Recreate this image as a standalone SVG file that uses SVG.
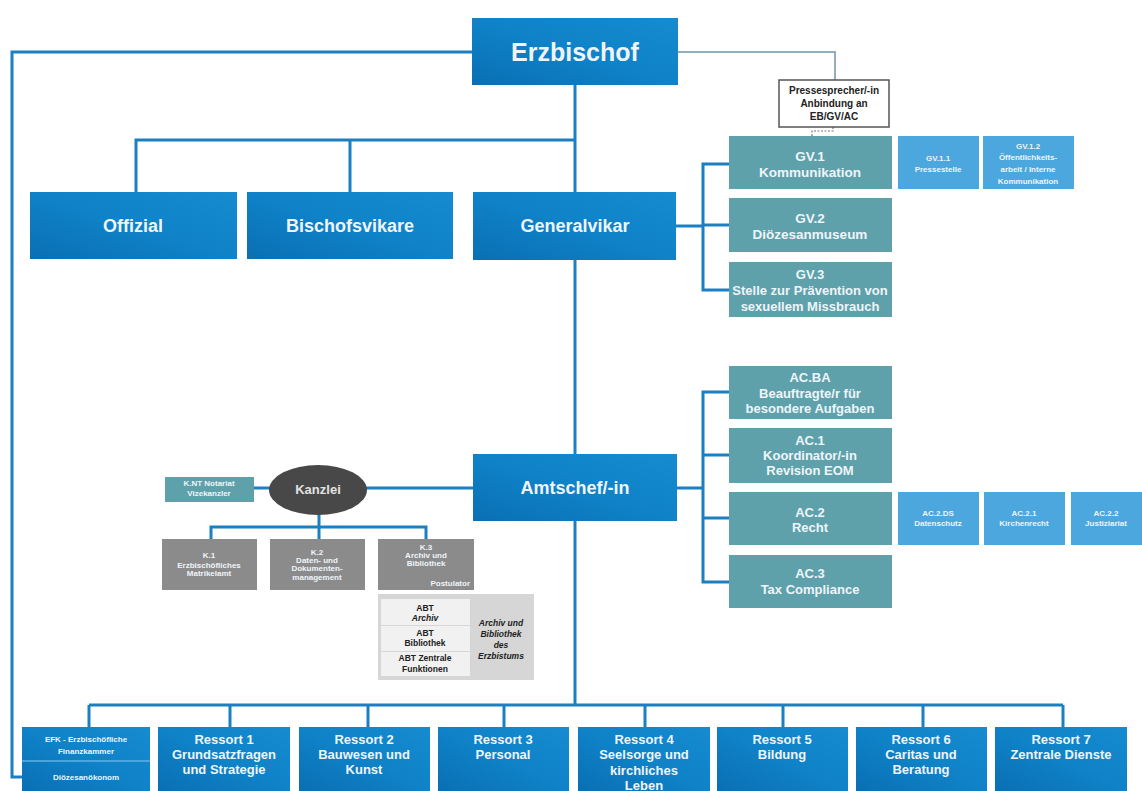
<svg xmlns="http://www.w3.org/2000/svg" width="1142" height="791" viewBox="0 0 1142 791">
<defs>
<linearGradient id="gb" x1="0" y1="1" x2="1" y2="0">
<stop offset="0" stop-color="#0a6fb3"/>
<stop offset="0.5" stop-color="#0f82c8"/>
<stop offset="1" stop-color="#168bd0"/>
</linearGradient>
<style>
.blue{fill:url(#gb)}
.teal{fill:#5fa1aa}
.lb{fill:#4ba7dd}
.gray{fill:#8b8b8b}
.t{font-family:"Liberation Sans",Arial,sans-serif;font-weight:bold;fill:#eef5fa;text-anchor:middle}
.d{font-family:"Liberation Sans",Arial,sans-serif;font-weight:bold;fill:#222;text-anchor:middle}
.conn{stroke:#1b7fc2;stroke-width:3;fill:none}
.thin{stroke:#6f95ad;stroke-width:1.5;fill:none}
.dash{stroke:#777;stroke-width:1.2;fill:none;stroke-dasharray:2 1.5}
</style>
</defs>
<rect width="1142" height="791" fill="#ffffff"/>

<g id="connectors">
<polyline class="conn" points="472,52 12,52 12,777 22,777"/>
<polyline class="thin" points="678,52 835,52 835,80"/>
<polyline class="dash" points="833,127 833,131 812,131 812,136"/>
<line class="conn" x1="575" y1="85" x2="575" y2="192"/>
<polyline class="conn" points="136,192 136,140 575,140"/>
<line class="conn" x1="350" y1="140" x2="350" y2="192"/>
<line class="conn" x1="676" y1="226" x2="703" y2="226"/>
<polyline class="conn" points="729,164 703,164 703,290 729,290"/>
<line class="conn" x1="703" y1="225" x2="729" y2="225"/>
<line class="conn" x1="575" y1="260" x2="575" y2="454"/>
<line class="conn" x1="677" y1="488" x2="703" y2="488"/>
<polyline class="conn" points="729,392 703,392 703,582 729,582"/>
<line class="conn" x1="703" y1="455" x2="729" y2="455"/>
<line class="conn" x1="703" y1="518" x2="729" y2="518"/>
<line class="conn" x1="254" y1="488" x2="270" y2="488"/>
<line class="conn" x1="366" y1="488" x2="473" y2="488"/>
<line class="conn" x1="319" y1="514" x2="319" y2="527"/>
<polyline class="conn" points="211,539 211,527 426,527 426,539"/>
<line class="conn" x1="319" y1="527" x2="319" y2="539"/>
<line class="conn" x1="575" y1="521" x2="575" y2="705"/>
<line class="conn" x1="89" y1="705" x2="1063" y2="705"/>
<line class="conn" x1="89" y1="705" x2="89" y2="727"/>
<line class="conn" x1="230" y1="705" x2="230" y2="727"/>
<line class="conn" x1="368" y1="705" x2="368" y2="727"/>
<line class="conn" x1="504" y1="705" x2="504" y2="727"/>
<line class="conn" x1="645" y1="705" x2="645" y2="727"/>
<line class="conn" x1="783" y1="705" x2="783" y2="727"/>
<line class="conn" x1="923" y1="705" x2="923" y2="727"/>
<line class="conn" x1="1063" y1="705" x2="1063" y2="727"/>
</g>

<g id="erzbischof">
<rect class="blue" x="472" y="18" width="206" height="67"/>
<text class="t" x="575" y="61" font-size="25">Erzbischof</text>
</g>

<g id="pressesprecher">
<rect x="779" y="80" width="110" height="47" fill="#ffffff" stroke="#555" stroke-width="1.5"/>
<text class="d" x="834" y="94" font-size="10">Pressesprecher/-in</text>
<text class="d" x="834" y="107" font-size="10">Anbindung an</text>
<text class="d" x="834" y="120" font-size="10">EB/GV/AC</text>
</g>

<g id="offizial">
<rect class="blue" x="30" y="192" width="207" height="67"/>
<text class="t" x="133" y="232" font-size="18">Offizial</text>
</g>
<g id="bischofsvikare">
<rect class="blue" x="247" y="192" width="206" height="67"/>
<text class="t" x="350" y="232" font-size="18">Bischofsvikare</text>
</g>
<g id="generalvikar">
<rect class="blue" x="473" y="192" width="203" height="68"/>
<text class="t" x="575" y="232" font-size="18">Generalvikar</text>
</g>

<g id="gv1">
<rect class="teal" x="729" y="136" width="163" height="53"/>
<text class="t" x="810" y="161" font-size="13.5">GV.1</text>
<text class="t" x="810" y="177" font-size="13.5">Kommunikation</text>
</g>
<g id="gv11">
<rect class="lb" x="898" y="136" width="81" height="53"/>
<text class="t" x="938" y="161" font-size="8">GV.1.1</text>
<text class="t" x="938" y="172" font-size="8">Pressestelle</text>
</g>
<g id="gv12">
<rect class="lb" x="983" y="136" width="91" height="53"/>
<text class="t" x="1028" y="149" font-size="8">GV.1.2</text>
<text class="t" x="1028" y="160" font-size="8">Öffentlichkeits-</text>
<text class="t" x="1028" y="172" font-size="8">arbeit / Interne</text>
<text class="t" x="1028" y="184" font-size="8">Kommunikation</text>
</g>
<g id="gv2">
<rect class="teal" x="729" y="198" width="163" height="54"/>
<text class="t" x="810" y="223" font-size="13.5">GV.2</text>
<text class="t" x="810" y="239" font-size="13.5">Diözesanmuseum</text>
</g>
<g id="gv3">
<rect class="teal" x="729" y="262" width="163" height="55"/>
<text class="t" x="810" y="279" font-size="13">GV.3</text>
<text class="t" x="810" y="295" font-size="13">Stelle zur Prävention von</text>
<text class="t" x="810" y="311" font-size="13">sexuellem Missbrauch</text>
</g>

<g id="amtschef">
<rect class="blue" x="473" y="454" width="204" height="67"/>
<text class="t" x="575" y="494" font-size="18">Amtschef/-in</text>
</g>

<g id="acba">
<rect class="teal" x="729" y="366" width="163" height="53"/>
<text class="t" x="810" y="382" font-size="13">AC.BA</text>
<text class="t" x="810" y="398" font-size="13">Beauftragte/r für</text>
<text class="t" x="810" y="413" font-size="13">besondere Aufgaben</text>
</g>
<g id="ac1">
<rect class="teal" x="729" y="428" width="163" height="55"/>
<text class="t" x="810" y="445" font-size="13">AC.1</text>
<text class="t" x="810" y="460" font-size="13">Koordinator/-in</text>
<text class="t" x="810" y="475" font-size="13">Revision EOM</text>
</g>
<g id="ac2">
<rect class="teal" x="729" y="492" width="163" height="53"/>
<text class="t" x="810" y="517" font-size="13">AC.2</text>
<text class="t" x="810" y="532" font-size="13">Recht</text>
</g>
<g id="ac2ds">
<rect class="lb" x="898" y="492" width="81" height="53"/>
<text class="t" x="938" y="516" font-size="8">AC.2.DS</text>
<text class="t" x="938" y="526" font-size="8">Datenschutz</text>
</g>
<g id="ac21">
<rect class="lb" x="984" y="492" width="81" height="53"/>
<text class="t" x="1024" y="516" font-size="8">AC.2.1</text>
<text class="t" x="1024" y="526" font-size="8">Kirchenrecht</text>
</g>
<g id="ac22">
<rect class="lb" x="1071" y="492" width="71" height="53"/>
<text class="t" x="1106" y="516" font-size="8">AC.2.2</text>
<text class="t" x="1106" y="526" font-size="8">Justiziariat</text>
</g>
<g id="ac3">
<rect class="teal" x="729" y="555" width="163" height="53"/>
<text class="t" x="810" y="578" font-size="13">AC.3</text>
<text class="t" x="810" y="594" font-size="13">Tax Compliance</text>
</g>

<g id="knt">
<rect class="teal" x="165" y="477" width="89" height="25"/>
<text class="t" x="209" y="486" font-size="8">K.NT Notariat</text>
<text class="t" x="209" y="496" font-size="8">Vizekanzler</text>
</g>
<g id="kanzlei">
<ellipse cx="318" cy="490" rx="49" ry="25" fill="#484848"/>
<text class="t" x="318" y="494" font-size="13" style="fill:#e2e2e2">Kanzlei</text>
</g>
<g id="k1">
<rect class="gray" x="162" y="539" width="95" height="51"/>
<text class="t" x="209" y="558" font-size="8">K.1</text>
<text class="t" x="209" y="568" font-size="8">Erzbischöfliches</text>
<text class="t" x="209" y="576" font-size="8">Matrikelamt</text>
</g>
<g id="k2">
<rect class="gray" x="270" y="539" width="95" height="51"/>
<text class="t" x="317" y="555" font-size="8">K.2</text>
<text class="t" x="317" y="563" font-size="8">Daten- und</text>
<text class="t" x="317" y="571" font-size="8">Dokumenten-</text>
<text class="t" x="317" y="580" font-size="8">management</text>
</g>
<g id="k3">
<rect class="gray" x="378" y="539" width="96" height="51"/>
<text class="t" x="426" y="550" font-size="8">K.3</text>
<text class="t" x="426" y="558" font-size="8">Archiv und</text>
<text class="t" x="426" y="566" font-size="8">Bibliothek</text>
<text class="t" x="470" y="586" font-size="8" style="text-anchor:end">Postulator</text>
</g>
<g id="abt">
<rect x="378" y="594" width="156" height="86" fill="#d6d6d6"/>
<rect x="381" y="599" width="89" height="26" fill="#f1f1f1"/>
<rect x="381" y="626" width="89" height="25" fill="#f1f1f1"/>
<rect x="381" y="652" width="89" height="24" fill="#f1f1f1"/>
<text class="d" x="425" y="611" font-size="8.5">ABT</text>
<text class="d" x="425" y="621" font-size="8.5" font-style="italic">Archiv</text>
<text class="d" x="425" y="636" font-size="8.5">ABT</text>
<text class="d" x="425" y="646" font-size="8.5">Bibliothek</text>
<text class="d" x="425" y="661" font-size="8.5">ABT Zentrale</text>
<text class="d" x="425" y="672" font-size="8.5">Funktionen</text>
<text class="d" x="501" y="626" font-size="8.5" font-style="italic">Archiv und</text>
<text class="d" x="501" y="637" font-size="8.5" font-style="italic">Bibliothek</text>
<text class="d" x="501" y="648" font-size="8.5" font-style="italic">des</text>
<text class="d" x="501" y="659" font-size="8.5" font-style="italic">Erzbistums</text>
</g>

<g id="efk">
<rect class="blue" x="22" y="727" width="128" height="64"/>
<line x1="22" y1="761" x2="150" y2="761" stroke="#5db2e4" stroke-width="1.5"/>
<text class="t" x="86" y="742" font-size="8">EFK - Erzbischöfliche</text>
<text class="t" x="86" y="754" font-size="8">Finanzkammer</text>
<text class="t" x="86" y="780" font-size="8">Diözesanökonom</text>
</g>
<g id="ressort1">
<rect class="blue" x="158" y="727" width="132" height="64"/>
<text class="t" x="224" y="744" font-size="13">Ressort 1</text>
<text class="t" x="224" y="759" font-size="13">Grundsatzfragen</text>
<text class="t" x="224" y="774" font-size="13">und Strategie</text>
</g>
<g id="ressort2">
<rect class="blue" x="299" y="727" width="131" height="64"/>
<text class="t" x="364" y="744" font-size="13">Ressort 2</text>
<text class="t" x="364" y="759" font-size="13">Bauwesen und</text>
<text class="t" x="364" y="774" font-size="13">Kunst</text>
</g>
<g id="ressort3">
<rect class="blue" x="438" y="727" width="131" height="64"/>
<text class="t" x="503" y="744" font-size="13">Ressort 3</text>
<text class="t" x="503" y="759" font-size="13">Personal</text>
</g>
<g id="ressort4">
<rect class="blue" x="578" y="727" width="132" height="64"/>
<text class="t" x="644" y="744" font-size="13">Ressort 4</text>
<text class="t" x="644" y="759" font-size="13">Seelsorge und</text>
<text class="t" x="644" y="775" font-size="13">kirchliches</text>
<text class="t" x="644" y="790" font-size="13">Leben</text>
</g>
<g id="ressort5">
<rect class="blue" x="717" y="727" width="131" height="64"/>
<text class="t" x="782" y="744" font-size="13">Ressort 5</text>
<text class="t" x="782" y="759" font-size="13">Bildung</text>
</g>
<g id="ressort6">
<rect class="blue" x="856" y="727" width="131" height="64"/>
<text class="t" x="921" y="744" font-size="13">Ressort 6</text>
<text class="t" x="921" y="759" font-size="13">Caritas und</text>
<text class="t" x="921" y="774" font-size="13">Beratung</text>
</g>
<g id="ressort7">
<rect class="blue" x="995" y="727" width="132" height="64"/>
<text class="t" x="1061" y="744" font-size="13">Ressort 7</text>
<text class="t" x="1061" y="759" font-size="13">Zentrale Dienste</text>
</g>
</svg>
